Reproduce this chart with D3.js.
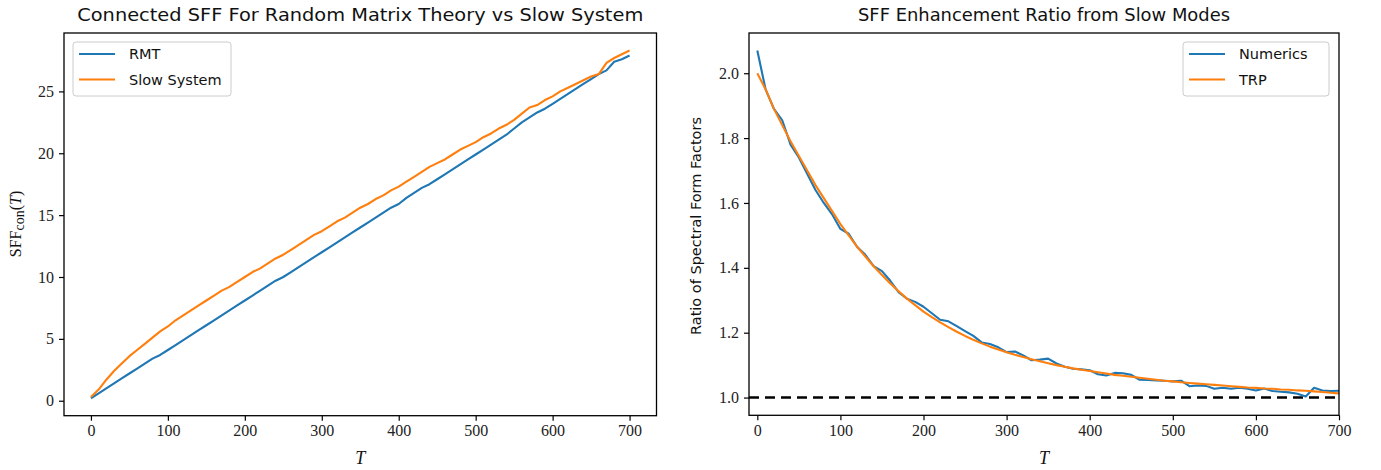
<!DOCTYPE html>
<html><head><meta charset="utf-8">
<script src="https://cdn.jsdelivr.net/npm/d3@7"></script>
<style>body{margin:0;background:#fff}svg{display:block}</style>
</head><body>
<svg id="c" width="1381" height="470"></svg>
<script>
// ---------- data ----------
const timeT = [0,10,20,30,40,50,60,70,80,90,100,110,120,130,140,150,160,170,180,190,200,210,220,230,240,250,260,270,280,290,300,310,320,330,340,350,360,370,380,390,400,410,420,430,440,450,460,470,480,490,500,510,520,530,540,550,560,570,580,590,600,610,620,630,640,650,660,670,680,690,700];

const rmtSFF = [0.2,0.6,1.0,1.4,1.8,2.2,2.6,3.0,3.4,3.7,4.1,4.5,4.9,5.3,5.7,6.1,6.5,6.9,7.3,7.7,8.1,8.5,8.9,9.3,9.7,10.0,10.4,10.8,11.2,11.6,12.0,12.4,12.8,13.2,13.6,14.0,14.4,14.8,15.2,15.6,15.9,16.4,16.8,17.2,17.5,17.9,18.3,18.7,19.1,19.5,19.9,20.3,20.7,21.1,21.5,22.0,22.5,22.9,23.3,23.6,24.0,24.4,24.8,25.2,25.6,26.0,26.4,26.7,27.4,27.6,27.9];

const slowSFF = [0.3,0.9,1.7,2.4,3.0,3.6,4.1,4.6,5.1,5.6,6.0,6.5,6.9,7.3,7.7,8.1,8.5,8.9,9.2,9.6,10.0,10.4,10.7,11.1,11.5,11.8,12.2,12.6,13.0,13.4,13.7,14.1,14.5,14.8,15.2,15.6,15.9,16.3,16.6,17.0,17.3,17.7,18.1,18.5,18.9,19.2,19.5,19.9,20.3,20.6,20.9,21.3,21.6,22.0,22.3,22.7,23.2,23.7,23.9,24.3,24.6,25.0,25.3,25.6,25.9,26.2,26.4,27.3,27.7,28.0,28.3];

const ratioNumerics = [2.07,1.95,1.89,1.855,1.78,1.74,1.69,1.64,1.60,1.565,1.52,1.505,1.465,1.44,1.405,1.39,1.36,1.325,1.305,1.295,1.28,1.26,1.24,1.235,1.22,1.205,1.19,1.17,1.165,1.155,1.14,1.142,1.13,1.115,1.117,1.12,1.105,1.095,1.089,1.087,1.084,1.072,1.068,1.076,1.075,1.07,1.055,1.054,1.053,1.052,1.05,1.052,1.035,1.037,1.036,1.027,1.03,1.027,1.03,1.027,1.022,1.028,1.02,1.018,1.016,1.012,1.003,1.03,1.022,1.02,1.021];

const ratioTRP = [2.00,1.95,1.89,1.84,1.79,1.745,1.70,1.655,1.615,1.575,1.535,1.50,1.465,1.435,1.405,1.378,1.352,1.328,1.305,1.285,1.265,1.248,1.232,1.217,1.203,1.19,1.178,1.167,1.157,1.148,1.14,1.132,1.125,1.118,1.112,1.106,1.100,1.095,1.090,1.086,1.082,1.078,1.074,1.070,1.067,1.064,1.061,1.058,1.055,1.052,1.050,1.047,1.045,1.043,1.041,1.039,1.037,1.035,1.033,1.031,1.030,1.028,1.027,1.025,1.024,1.022,1.021,1.019,1.017,1.015,1.013];

const xTicks = [0,100,200,300,400,500,600,700];
const leftYTicks = [0,5,10,15,20,25];
const rightYTicks = [1.0,1.2,1.4,1.6,1.8,2.0];
const referenceLevel = 1.0;

const leftTitle = "Connected SFF For Random Matrix Theory vs Slow System";
const rightTitle = "SFF Enhancement Ratio from Slow Modes";
const leftSeries = [{name:"RMT", values:rmtSFF, color:"#1f77b4"},{name:"Slow System", values:slowSFF, color:"#ff7f0e"}];
const rightSeries = [{name:"Numerics", values:ratioNumerics, color:"#1f77b4"},{name:"TRP", values:ratioTRP, color:"#ff7f0e"}];

// ---------- drawing ----------
const svg = d3.select("#c");
const serif = "'Liberation Serif', 'DejaVu Serif', serif";
const sans = "'DejaVu Sans', sans-serif";

function panel(cfg){
  const g = svg.append("g");
  const x = d3.scaleLinear().domain(cfg.xDomain).range([cfg.left, cfg.right]);
  const y = d3.scaleLinear().domain(cfg.yDomain).range([cfg.bottom, cfg.top]);
  const clipId = "clip" + cfg.id;
  svg.append("clipPath").attr("id", clipId).append("rect")
    .attr("x", cfg.left).attr("y", cfg.top).attr("width", cfg.right-cfg.left).attr("height", cfg.bottom-cfg.top);

  const plot = g.append("g").attr("clip-path", `url(#${clipId})`);
  if (cfg.hline !== undefined){
    plot.append("line").attr("x1", cfg.left).attr("x2", cfg.right)
      .attr("y1", y(cfg.hline)).attr("y2", y(cfg.hline))
      .attr("stroke", "#000").attr("stroke-width", 2.6).attr("stroke-dasharray", "10,6");
  }
  const line = d3.line().x((d,i)=>x(timeT[i])).y(d=>y(d));
  cfg.series.forEach(s=>{
    plot.append("path").attr("d", line(s.values)).attr("fill","none")
      .attr("stroke", s.color).attr("stroke-width", 2.1).attr("stroke-linejoin","round");
  });

  // axes
  const xa = g.append("g").attr("transform", `translate(0,${cfg.bottom})`)
    .call(d3.axisBottom(x).tickValues(xTicks).tickFormat(d3.format("d")).tickSize(5).tickPadding(4));
  const ya = g.append("g").attr("transform", `translate(${cfg.left},0)`)
    .call(d3.axisLeft(y).tickValues(cfg.yTicks).tickFormat(cfg.yFormat).tickSize(5).tickPadding(5));
  [xa, ya].forEach(a=>{
    a.select(".domain").remove();
    a.selectAll(".tick line").attr("stroke","#000").attr("stroke-width",1.2);
    a.selectAll(".tick text").attr("font-family", serif).attr("font-size", 16).attr("fill","#222");
  });

  // frame
  g.append("rect").attr("x", cfg.left).attr("y", cfg.top).attr("width", cfg.right-cfg.left)
    .attr("height", cfg.bottom-cfg.top).attr("fill","none").attr("stroke","#000").attr("stroke-width",1.3);

  // title
  g.append("text").attr("x", (cfg.left+cfg.right)/2).attr("y", 21).attr("text-anchor","middle")
    .attr("font-family", sans).attr("font-size", 18.5).attr("fill","#111")
    .attr("textLength", cfg.titleWidth).attr("lengthAdjust","spacingAndGlyphs").text(cfg.title);

  // x label
  g.append("text").attr("x", (cfg.left+cfg.right)/2).attr("y", 464).attr("text-anchor","middle")
    .attr("font-family", serif).attr("font-style","italic").attr("font-size", 18).attr("fill","#111").text("T");

  // legend
  const L = cfg.legend;
  const lg = g.append("g");
  lg.append("rect").attr("x", L.x).attr("y", L.y).attr("width", L.w).attr("height", L.h).attr("rx", 3)
    .attr("fill","#fff").attr("fill-opacity",0.8).attr("stroke","#ccc").attr("stroke-width",1);
  cfg.series.forEach((s,i)=>{
    const yy = L.y + 12 + i*25.5;
    lg.append("line").attr("x1", L.x+6).attr("x2", L.x+42).attr("y1", yy).attr("y2", yy)
      .attr("stroke", s.color).attr("stroke-width", 2.1);
    lg.append("text").attr("x", L.x+56).attr("y", yy).attr("dy","0.35em")
      .attr("font-family", sans).attr("font-size", 14.5).attr("fill","#111").text(s.name);
  });
  return g;
}

panel({id:"L", left:64, right:656.5, top:33, bottom:415.7, xDomain:[-35,735], yDomain:[-1.21,29.72],
  yTicks:leftYTicks, yFormat:d3.format("d"), series:leftSeries, title:leftTitle, titleWidth:566,
  legend:{x:73, y:42, w:158, h:54}});
panel({id:"R", left:749, right:1339, top:33, bottom:415.3, xDomain:[-10,700], yDomain:[0.9453,2.124],
  yTicks:rightYTicks, yFormat:d3.format(".1f"), series:rightSeries, title:rightTitle, titleWidth:372, hline:referenceLevel,
  legend:{x:1183, y:42, w:146, h:54}});

// y labels
const yl = svg.append("text").attr("transform","translate(21,224) rotate(-90)").attr("text-anchor","middle")
  .attr("font-family", serif).attr("font-size", 16).attr("fill","#111");
yl.append("tspan").text("SFF");
yl.append("tspan").attr("font-size",14).attr("dy",3).text("con");
yl.append("tspan").attr("dy",-3).text("(");
yl.append("tspan").attr("font-style","italic").text("T");
yl.append("tspan").text(")");

svg.append("text").attr("transform","translate(701,226) rotate(-90)").attr("text-anchor","middle")
  .attr("font-family", sans).attr("font-size", 14.5).attr("fill","#111").text("Ratio of Spectral Form Factors");
</script>
</body></html>
